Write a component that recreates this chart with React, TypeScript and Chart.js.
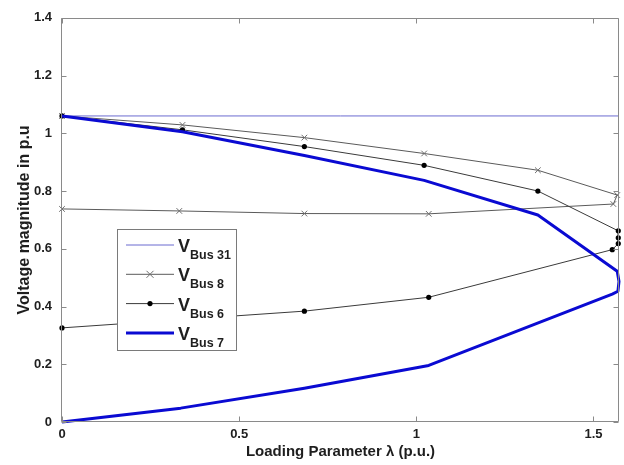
import React, { useEffect, useRef } from "react";
import { Chart, registerables } from "chart.js";

Chart.register(...registerables);

const FONT = "'Liberation Sans', Arial, Helvetica, sans-serif";

const xTicks = [0, 0.5, 1, 1.5];
const yTicks = [0, 0.2, 0.4, 0.6, 0.8, 1, 1.2, 1.4];
const xMin = 0;
const xMax = 1.572;
const yMin = 0;
const yMax = 1.4;

const bus31Lambda = [0, 1.572];
const bus31V = [1.06, 1.06];

const bus8Lambda = [0, 0.34, 0.684, 1.022, 1.343, 1.567, 1.556, 1.035, 0.684, 0.331, 0];
const bus8V = [1.06, 1.029, 0.985, 0.93, 0.872, 0.786, 0.755, 0.721, 0.722, 0.731, 0.738];

const bus6Lambda = [0, 0.34, 0.684, 1.022, 1.343, 1.57, 1.57, 1.57, 1.553, 1.035, 0.684, 0];
const bus6V = [1.06, 1.012, 0.954, 0.889, 0.8, 0.662, 0.638, 0.618, 0.597, 0.432, 0.384, 0.326];

const bus7Lambda = [0, 0.34, 0.684, 1.022, 1.343, 1.567, 1.572, 1.569, 1.553, 1.035, 0.684, 0.335, 0];
const bus7V = [1.06, 1.005, 0.923, 0.837, 0.717, 0.522, 0.487, 0.453, 0.443, 0.196, 0.117, 0.048, 0];

const seriesNames = ["Bus 31", "Bus 8", "Bus 6", "Bus 7"];

const toPoints = (xs: number[], ys: number[]) => xs.map((x, i) => ({ x, y: ys[i] }));

const COLORS = {
  bus31: "#6b6bd0",
  bus8: "#5a5a5a",
  bus8Marker: "#6e6e6e",
  bus6: "#3a3a3a",
  bus6Marker: "#000000",
  bus7: "#0a0ad2",
  frame: "#8a8a8a",
  text: "#1e1e1e",
};

const framePlugin = {
  id: "matlabFrame",
  afterDraw(chart: any) {
    const { ctx, chartArea: a, scales } = chart;
    ctx.save();
    const L = Math.round(a.left) - 0.5;
    const R = Math.round(a.right) - 0.5;
    const T = Math.round(a.top) + 0.5;
    const B = Math.round(a.bottom) - 0.5;
    ctx.strokeStyle = COLORS.frame;
    ctx.lineWidth = 1;
    ctx.beginPath();
    ctx.rect(L, T, R - L, B - T);
    ctx.stroke();
    const tl = 5;
    ctx.beginPath();
    yTicks.forEach((v) => {
      const y = Math.round(scales.y.getPixelForValue(v)) + 0.5;
      ctx.moveTo(L, y);
      ctx.lineTo(L + tl, y);
      ctx.moveTo(R, y);
      ctx.lineTo(R - tl, y);
    });
    xTicks.forEach((v) => {
      const x = Math.round(scales.x.getPixelForValue(v)) + 0.5;
      ctx.moveTo(x, B);
      ctx.lineTo(x, B - tl);
      ctx.moveTo(x, T);
      ctx.lineTo(x, T + tl);
    });
    ctx.stroke();

    // legend box
    const bx = 117.5, by = 229.5, bw = 119, bh = 121;
    ctx.fillStyle = "#ffffff";
    ctx.fillRect(bx, by, bw, bh);
    ctx.strokeStyle = "#7a7a7a";
    ctx.strokeRect(bx, by, bw, bh);

    const ds = chart.data.datasets;
    const order = [0, 1, 2, 3];
    order.forEach((i) => {
      const d = ds[i];
      const y = 245 + i * 29.3;
      const x0 = 126, x1 = 174, xm = 150;
      ctx.strokeStyle = d.borderColor;
      ctx.lineWidth = d.borderWidth;
      ctx.beginPath();
      ctx.moveTo(x0, y);
      ctx.lineTo(x1, y);
      ctx.stroke();
      if (d.pointStyle === "crossRot" && d.pointRadius > 0) {
        const r = 3.5;
        ctx.strokeStyle = d.pointBorderColor;
        ctx.lineWidth = 1;
        ctx.beginPath();
        ctx.moveTo(xm - r, y - r);
        ctx.lineTo(xm + r, y + r);
        ctx.moveTo(xm - r, y + r);
        ctx.lineTo(xm + r, y - r);
        ctx.stroke();
      } else if (d.pointStyle === "circle" && d.pointRadius > 0) {
        ctx.fillStyle = d.pointBackgroundColor;
        ctx.beginPath();
        ctx.arc(xm, y, 2.6, 0, Math.PI * 2);
        ctx.fill();
      }
      ctx.fillStyle = COLORS.text;
      ctx.textBaseline = "alphabetic";
      ctx.textAlign = "left";
      ctx.font = `bold 18px ${FONT}`;
      ctx.fillText("V", 178, y + 7);
      ctx.font = `bold 12.5px ${FONT}`;
      ctx.fillText(seriesNames[i], 190, y + 14);
    });
    ctx.restore();
  },
};

export default function App() {
  const ref = useRef<HTMLCanvasElement | null>(null);

  useEffect(() => {
    document.body.style.margin = "0";
    const canvas = ref.current;
    if (!canvas) return;
    const chart = new Chart(canvas, {
      type: "scatter",
      data: {
        datasets: [
          {
            label: "V Bus 31",
            data: toPoints(bus31Lambda, bus31V),
            showLine: true,
            borderColor: COLORS.bus31,
            borderWidth: 1,
            pointRadius: 0,
            pointStyle: "line",
            order: 4,
          },
          {
            label: "V Bus 8",
            data: toPoints(bus8Lambda, bus8V),
            showLine: true,
            borderColor: COLORS.bus8,
            borderWidth: 1,
            pointStyle: "crossRot",
            pointRadius: 4,
            pointBorderColor: COLORS.bus8Marker,
            pointBorderWidth: 1,
            pointBackgroundColor: "rgba(0,0,0,0)",
            order: 3,
          },
          {
            label: "V Bus 6",
            data: toPoints(bus6Lambda, bus6V),
            showLine: true,
            borderColor: COLORS.bus6,
            borderWidth: 1,
            pointStyle: "circle",
            pointRadius: 2.6,
            pointBorderWidth: 0,
            pointBorderColor: COLORS.bus6Marker,
            pointBackgroundColor: COLORS.bus6Marker,
            order: 2,
          },
          {
            label: "V Bus 7",
            data: toPoints(bus7Lambda, bus7V),
            showLine: true,
            borderColor: COLORS.bus7,
            borderWidth: 3,
            pointRadius: 0,
            pointStyle: "line",
            borderJoinStyle: "round",
            order: 1,
          },
        ] as any,
      },
      options: {
        animation: false,
        responsive: false,
        maintainAspectRatio: false,
        clip: false as any,
        layout: { padding: { top: 14, right: 2, left: 0, bottom: 0 } },
        elements: { line: { tension: 0 } },
        plugins: { legend: { display: false }, tooltip: { enabled: false } },
        scales: {
          x: {
            type: "linear",
            min: xMin,
            max: xMax,
            grid: { display: false, drawTicks: false },
            border: { display: false },
            afterBuildTicks: (s: any) => {
              s.ticks = xTicks.map((v) => ({ value: v }));
            },
            afterFit: (s: any) => {
              s.height = 43;
            },
            ticks: {
              padding: 5,
              autoSkip: false,
              maxRotation: 0,
              color: COLORS.text,
              font: { family: FONT, size: 13, weight: "bold" },
              callback: (v: any) => String(Number(Number(v).toFixed(1))),
            },
            title: {
              display: true,
              text: "Loading Parameter λ (p.u.)",
              color: COLORS.text,
              font: { family: FONT, size: 15, weight: "bold" },
              padding: { top: 0, bottom: 4 },
            },
          },
          y: {
            type: "linear",
            min: yMin,
            max: yMax,
            grid: { display: false, drawTicks: false },
            border: { display: false },
            afterBuildTicks: (s: any) => {
              s.ticks = yTicks.map((v) => ({ value: v }));
            },
            afterFit: (s: any) => {
              s.width = 62;
            },
            ticks: {
              padding: 10,
              autoSkip: false,
              color: COLORS.text,
              font: { family: FONT, size: 13, weight: "bold" },
              callback: (v: any) => String(Number(Number(v).toFixed(1))),
            },
            title: {
              display: true,
              text: "Voltage magnitude in p.u",
              color: COLORS.text,
              font: { family: FONT, size: 16, weight: "bold" },
              padding: { top: 15, bottom: 0 },
            },
          },
        },
      },
      plugins: [framePlugin],
    } as any);
    return () => chart.destroy();
  }, []);

  return (
    <div style={{ width: 624, height: 465 }}>
      <canvas ref={ref} width={624} height={465} style={{ display: "block", width: 624, height: 465 }} />
    </div>
  );
}
